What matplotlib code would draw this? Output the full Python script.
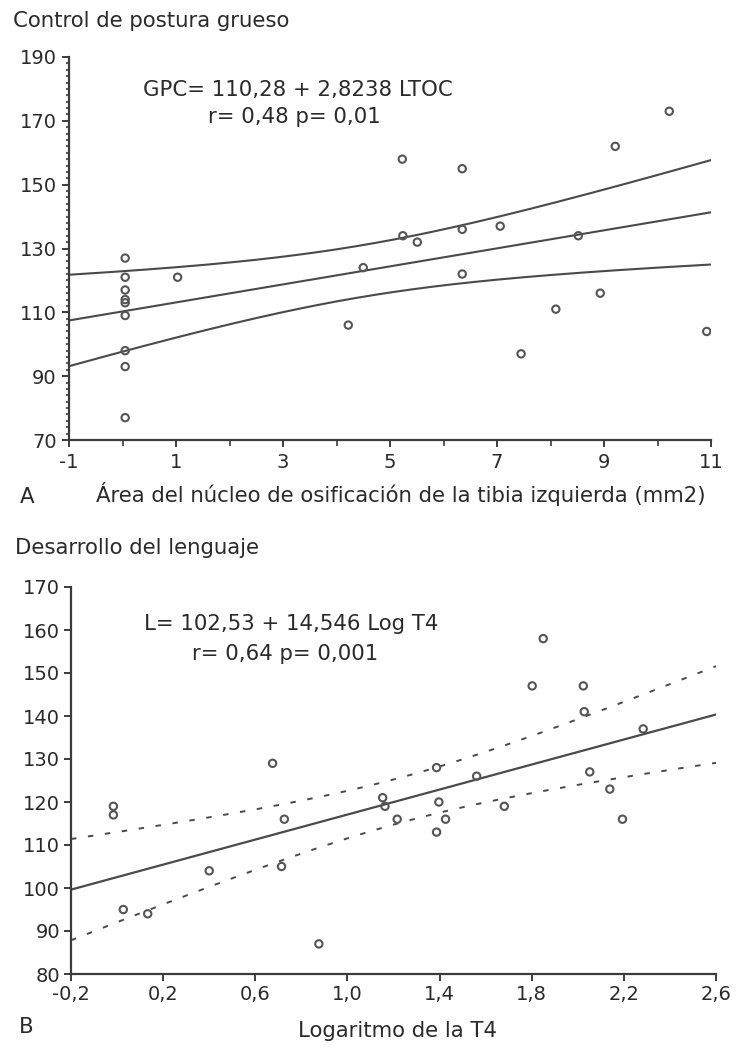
import matplotlib
matplotlib.use("Agg")
import matplotlib.pyplot as plt
from matplotlib.ticker import FixedLocator, MultipleLocator, FuncFormatter
import numpy as np

# Panel A: área del núcleo de osificación (mm2) vs control de postura grueso
ltoc = [0.05, 0.05, 0.05, 0.05, 0.05, 0.05, 0.05, 0.05, 0.05,
        1.03, 4.22, 4.5, 5.23, 5.24, 5.51, 6.35, 6.35, 6.35,
        7.06, 7.45, 8.10, 8.52, 8.93, 9.21, 10.22, 10.92]
gpc = [127, 121, 117, 114, 113, 109, 98, 93, 77,
       121, 106, 124, 158, 134, 132, 155, 136, 122,
       137, 97, 111, 134, 116, 162, 173, 104]
gpc_coef = (110.28, 2.8238)
gpc_ticks = [70, 90, 110, 130, 150, 170, 190]

# Panel B: logaritmo de la T4 vs desarrollo del lenguaje
log_t4 = [-0.016, -0.016, 0.027, 0.133, 0.40, 0.675, 0.714, 0.726, 0.876,
          1.153, 1.163, 1.216, 1.387, 1.387, 1.397, 1.426, 1.561, 1.681,
          1.802, 1.85, 2.024, 2.028, 2.052, 2.139, 2.194, 2.284]
lenguaje = [119, 117, 95, 94, 104, 129, 105, 116, 87,
            121, 119, 116, 128, 113, 120, 116, 126, 119,
            147, 158, 147, 141, 127, 123, 116, 137]
len_coef = (102.53, 14.546)
t4_ticks = [-0.2, 0.2, 0.6, 1.0, 1.4, 1.8, 2.2, 2.6]

W, H = 737, 1046
axis_col = "#3c3c3c"
line_col = "#4a4a4a"
text_col = "#2a2a2a"
fs_tick = 14
fs = 15.3

plt.rcParams["font.family"] = ["DejaVu Sans"]
plt.rcParams["axes.unicode_minus"] = False


def conf_band(x, y, coef, xs, t=2.06):
    x = np.asarray(x, float)
    y = np.asarray(y, float)
    a, b = coef
    n = len(x)
    s = np.sqrt(np.sum((y - (a + b * x)) ** 2) / (n - 2))
    sxx = np.sum((x - x.mean()) ** 2)
    half = t * s * np.sqrt(1 / n + (xs - x.mean()) ** 2 / sxx)
    fit = a + b * xs
    return fit, fit - half, fit + half


def px_axes(fig, left, top, right, bottom):
    return fig.add_axes([left / W, 1 - bottom / H, (right - left) / W, (bottom - top) / H])


def style(ax, pad=3):
    for side in ("top", "right"):
        ax.spines[side].set_visible(False)
    for side in ("left", "bottom"):
        ax.spines[side].set_color(axis_col)
        ax.spines[side].set_linewidth(1.6)
    ax.tick_params(which="major", direction="out", length=5, width=1.4,
                   color=axis_col, labelsize=fs_tick, labelcolor=text_col, pad=pad)
    ax.tick_params(which="minor", direction="out", length=2.5, width=1.2, color=axis_col)


fig = plt.figure(figsize=(W / 100, H / 100), dpi=100)

# ---- panel A ----
ax1 = px_axes(fig, 69, 57, 711, 440)
xs = np.linspace(-1, 11, 200)
fit, lo, hi = conf_band(ltoc, gpc, gpc_coef, xs)
for yy in (fit, lo, hi):
    ax1.plot(xs, yy, color=line_col, lw=1.5)
ax1.scatter(ltoc, gpc, s=28, facecolors="none", edgecolors="#555555", linewidths=1.5, zorder=3)
ax1.set_xlim(-1, 11)
ax1.set_ylim(70, 190)
ax1.xaxis.set_major_locator(FixedLocator([-1, 1, 3, 5, 7, 9, 11]))
ax1.xaxis.set_minor_locator(FixedLocator([0, 2, 4, 6, 8, 10]))
ax1.yaxis.set_major_locator(FixedLocator(gpc_ticks))
ax1.yaxis.set_minor_locator(MultipleLocator(2))
style(ax1, pad=4)
ax1.tick_params(axis="x", which="minor", length=4)
ax1.text(3.28, 179.7, "GPC= 110,28 + 2,8238 LTOC", ha="center", va="center",
         fontsize=fs, color=text_col)
ax1.text(3.22, 171.2, "r= 0,48 p= 0,01", ha="center", va="center",
         fontsize=fs, color=text_col)

fig.text(13 / W, 1 - 21 / H, "Control de postura grueso", ha="left", va="center",
         fontsize=fs, color=text_col)
fig.text(27 / W, 1 - 497 / H, "A", ha="center", va="center", fontsize=fs, color=text_col)
fig.text(401 / W, 1 - 494 / H, "Área del núcleo de osificación de la tibia izquierda (mm2)",
         ha="center", va="center", fontsize=fs, color=text_col)

# ---- panel B ----
ax2 = px_axes(fig, 71, 587, 716, 974)
xs2 = np.linspace(-0.2, 2.6, 200)
fit2, lo2, hi2 = conf_band(log_t4, lenguaje, len_coef, xs2)
ax2.plot(xs2, fit2, color=line_col, lw=1.6)
for yy in (lo2, hi2):
    ax2.plot(xs2, yy, color=line_col, lw=1.4, linestyle=(0, (2.8, 6)))
ax2.scatter(log_t4, lenguaje, s=28, facecolors="none", edgecolors="#555555", linewidths=1.5, zorder=3)
ax2.set_xlim(-0.2, 2.6)
ax2.set_ylim(80, 170)
ax2.xaxis.set_major_locator(FixedLocator(t4_ticks))
ax2.yaxis.set_major_locator(MultipleLocator(10))
ax2.xaxis.set_major_formatter(FuncFormatter(lambda v, p: f"{v:.1f}".replace(".", ",")))
style(ax2)
ax2.text(0.755, 161.5, "L= 102,53 + 14,546 Log T4", ha="center", va="center",
         fontsize=fs, color=text_col)
ax2.text(0.729, 154.5, "r= 0,64 p= 0,001", ha="center", va="center",
         fontsize=fs, color=text_col)

fig.text(15 / W, 1 - 548 / H, "Desarrollo del lenguaje", ha="left", va="center",
         fontsize=fs, color=text_col)
fig.text(26 / W, 1 - 1027 / H, "B", ha="center", va="center", fontsize=fs, color=text_col)
fig.text(398 / W, 1 - 1031 / H, "Logaritmo de la T4", ha="center", va="center",
         fontsize=fs, color=text_col)

fig.savefig("out.png", dpi=100)
